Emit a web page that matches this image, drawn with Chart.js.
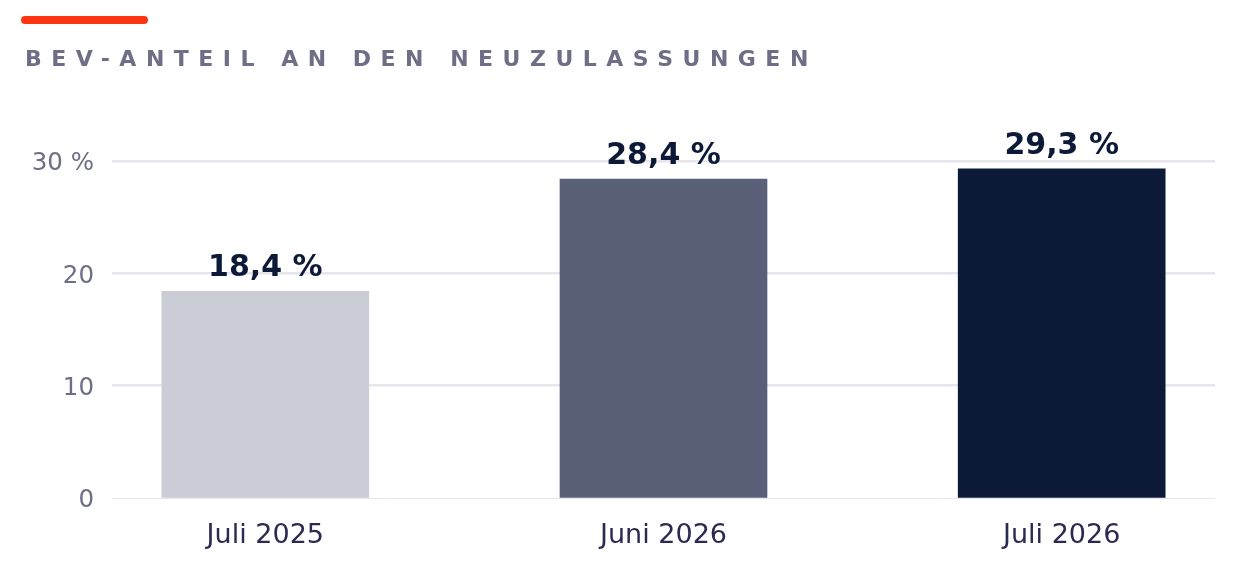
<!DOCTYPE html>
<html lang="de">
<head>
    <meta charset="UTF-8">
    <title>BEV-Anteil an den Neuzulassungen</title>
    <script src="https://cdn.jsdelivr.net/npm/chart.js"></script>
    <style>
        html, body { margin: 0; padding: 0; background: #fff; }
        #wrap { width: 1240px; height: 580px; position: relative; }
    </style>
</head>
<body>
    <div id="wrap"><canvas id="bev-chart" width="1240" height="580"></canvas></div>

    <script>
        const categories = ['Juli 2025', 'Juni 2026', 'Juli 2026'];
        const shares = [18.4, 28.4, 29.3];
        const barColors = ['#cacdd6', '#596078', '#0c1a38'];
        const yTicks = [0, 10, 20, 30];
        const titleText = 'BEV-ANTEIL AN DEN NEUZULASSUNGEN';

        const fontFamily = '"DejaVu Sans", sans-serif';

        // accent bar + spaced title on top
        const headerPlugin = {
            id: 'header',
            beforeDraw(chart) {
                const ctx = chart.ctx;
                ctx.save();
                ctx.fillStyle = '#ff3413';
                ctx.beginPath();
                ctx.roundRect(21, 16, 127, 8, 4);
                ctx.fill();
                ctx.font = 'bold 22px ' + fontFamily;
                ctx.fillStyle = '#6e6e87';
                ctx.textBaseline = 'alphabetic';
                ctx.letterSpacing = '9.5px';
                ctx.fillText(titleText, 25, 66);
                ctx.restore();
            }
        };

        // value labels over bars
        const valueLabels = {
            id: 'valueLabels',
            afterDatasetsDraw(chart) {
                const ctx = chart.ctx;
                const meta = chart.getDatasetMeta(0);
                ctx.save();
                ctx.font = 'bold 30px ' + fontFamily;
                ctx.fillStyle = '#0c1a38';
                ctx.textAlign = 'center';
                ctx.textBaseline = 'alphabetic';
                meta.data.forEach((bar, i) => {
                    const txt = shares[i].toFixed(1).replace('.', ',') + ' %';
                    ctx.fillText(txt, bar.x, bar.y - 15);
                });
                ctx.restore();
            }
        };

        new Chart(document.getElementById('bev-chart'), {
            type: 'bar',
            data: {
                datasets: [{
                    data: shares.map((v, i) => ({ x: i, y: v })),
                    backgroundColor: barColors,
                    barThickness: 207,
                    borderWidth: 0
                }]
            },
            options: {
                responsive: false,
                animation: false,
                layout: { padding: { top: 161, right: 25, left: 0, bottom: 0 } },
                plugins: {
                    legend: { display: false },
                    tooltip: { enabled: false }
                },
                scales: {
                    x: {
                        type: 'linear',
                        offset: false,
                        min: -0.385,
                        max: 2.385,
                        grid: { display: false, drawTicks: false },
                        border: { display: false },
                        afterBuildTicks: (scale) => {
                            scale.ticks = categories.map((c, i) => ({ value: i }));
                        },
                        afterFit: (scale) => { scale.height = 82; },
                        ticks: {
                            padding: 22,
                            color: '#2b2a52',
                            font: { family: fontFamily, size: 27 },
                            callback: (v) => categories[v]
                        }
                    },
                    y: {
                        min: 0,
                        max: 30,
                        afterBuildTicks: (scale) => {
                            scale.ticks = yTicks.map(v => ({ value: v }));
                        },
                        afterFit: (scale) => { scale.width = 112; },
                        border: { display: false },
                        grid: {
                            color: '#e6e6ec',
                            lineWidth: (c) => (c.tick && c.tick.value === 0 ? 1 : 2.5),
                            drawTicks: false
                        },
                        ticks: {
                            padding: 18,
                            labelOffset: 3,
                            color: '#6e6e87',
                            font: { family: fontFamily, size: 24.5 },
                            callback: (v) => (v === 30 ? '30 %' : v)
                        }
                    }
                }
            },
            plugins: [headerPlugin, valueLabels]
        });
    </script>
</body>
</html>
